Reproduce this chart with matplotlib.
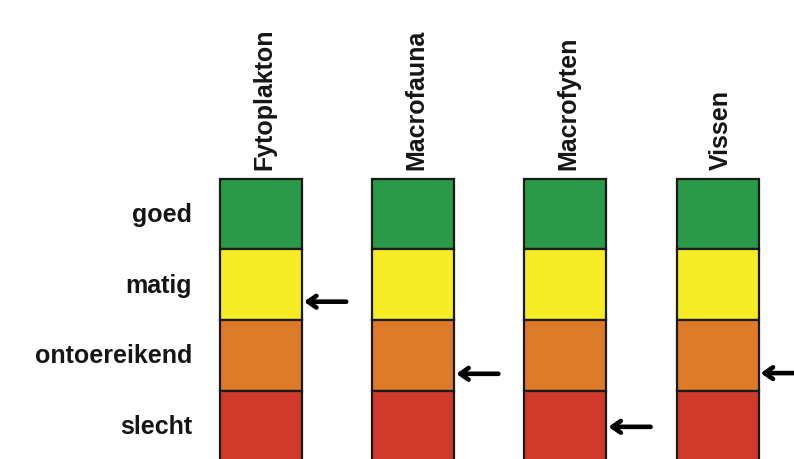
import matplotlib
matplotlib.use("Agg")
import matplotlib.pyplot as plt
from matplotlib.patches import Rectangle

# Data
groups = ["Fytoplakton", "Macrofauna", "Macrofyten", "Vissen"]
levels = ["goed", "matig", "ontoereikend", "slecht"]
level_colors = ["#2a9a48", "#f5ec24", "#de7a28", "#cf3a2a"]
# arrow position expressed in row units (0 = centre of 'goed', 3 = centre of 'slecht')
arrow_pos = [1.24, 2.26, 3.01, 2.25]

plt.rcParams['font.family'] = ['Liberation Sans', 'DejaVu Sans']

fig = plt.figure(figsize=(7.94, 4.60), dpi=100)
ax = fig.add_axes([0, 0, 1, 1])
ax.set_xlim(-1.715, 3.502)
ax.set_ylim(3.465, -3.041)
ax.axis('off')

box_w = 0.54
fs = 18

for i, g in enumerate(groups):
    for j, lev in enumerate(levels):
        ax.add_patch(Rectangle((i - box_w / 2, j - 0.5), box_w, 1.0,
                               facecolor=level_colors[j], edgecolor="#1a1a1a",
                               linewidth=1.6, zorder=2))
    ax.text(i + 0.02, -0.5 - 0.13, g, rotation=90, ha='center', va='bottom',
            fontsize=fs, fontweight='bold', color='#151515')
    ax.annotate("", xy=(i + box_w / 2 + 0.013, arrow_pos[i]),
                xytext=(i + box_w / 2 + 0.29, arrow_pos[i]),
                arrowprops=dict(arrowstyle="->,head_length=0.6,head_width=0.42",
                                lw=3.3, color='black', shrinkA=0, shrinkB=0),
                zorder=3, annotation_clip=False)

for j, lev in enumerate(levels):
    ax.text(-box_w / 2 - 0.184, j, lev, ha='right', va='center',
            fontsize=fs, fontweight='bold', color='#151515')

fig.savefig("out.png", dpi=100)
